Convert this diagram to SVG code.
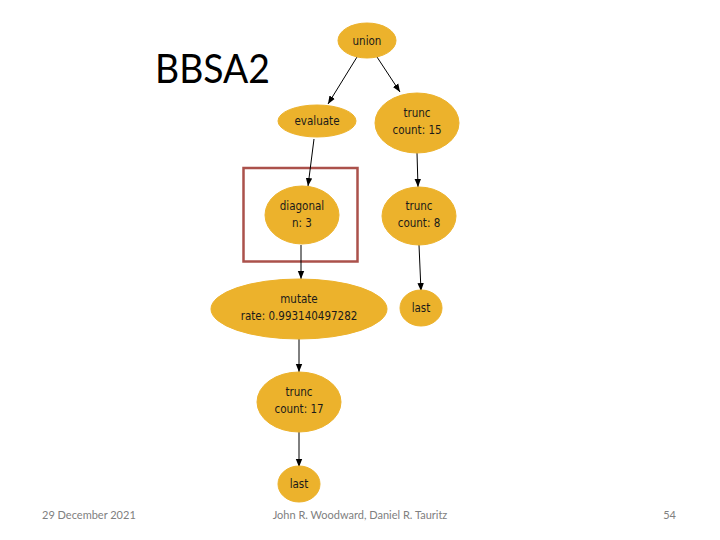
<svg xmlns="http://www.w3.org/2000/svg" width="720" height="540" viewBox="0 0 720 540">
<defs>
<marker id="arr" markerWidth="8" markerHeight="8" refX="8" refY="4" orient="auto" markerUnits="userSpaceOnUse">
<path d="M0,0.8 L8,4 L0,7.2 Z" fill="#000"/>
</marker>
<style>
.n{fill:#ecb22c;stroke:#ecb22c;stroke-width:1}
.t{font-family:"DejaVu Sans Condensed","DejaVu Sans",sans-serif;font-size:11.5px;fill:#1a1a1a;text-anchor:middle}
.e{stroke:#000;stroke-width:1;fill:none;marker-end:url(#arr)}
.f{font-family:"Lato","Open Sans",sans-serif;font-size:11px;fill:#808080}
</style>
</defs>
<rect width="720" height="540" fill="#fff"/>
<text x="155" y="83" font-family="Lato,'Open Sans',sans-serif" font-size="40" fill="#000" textLength="115" lengthAdjust="spacingAndGlyphs">BBSA2</text>
<rect x="243.5" y="168" width="114" height="93.5" fill="none" stroke="#ab514b" stroke-width="2.5"/>
<g id="edges">
<line class="e" x1="357" y1="57" x2="328" y2="104"/>
<line class="e" x1="377" y1="57" x2="400" y2="92"/>
<line class="e" x1="314" y1="139" x2="308" y2="186"/>
<line class="e" x1="417" y1="153" x2="418" y2="187"/>
<line class="e" x1="301" y1="245" x2="301" y2="279"/>
<line class="e" x1="419" y1="245" x2="421" y2="291"/>
<line class="e" x1="299" y1="339" x2="299" y2="372"/>
<line class="e" x1="299" y1="432" x2="299" y2="467"/>
</g>
<g id="union"><ellipse class="n" cx="367" cy="40.5" rx="29" ry="17.5"/><text class="t" x="367" y="44.5">union</text></g>
<g id="evaluate"><ellipse class="n" cx="317" cy="121" rx="39" ry="16"/><text class="t" x="317" y="125">evaluate</text></g>
<g id="trunc15"><ellipse class="n" cx="417" cy="123" rx="42" ry="30"/><text class="t" x="417" y="117">trunc</text><text class="t" x="417" y="134">count: 15</text></g>
<g id="diagonal"><ellipse class="n" cx="302" cy="215" rx="37" ry="29"/><text class="t" x="302" y="210">diagonal</text><text class="t" x="302" y="227">n: 3</text></g>
<g id="trunc8"><ellipse class="n" cx="419" cy="216" rx="37" ry="29"/><text class="t" x="419" y="210">trunc</text><text class="t" x="419" y="227">count: 8</text></g>
<g id="mutate"><ellipse class="n" cx="299" cy="309" rx="88" ry="30"/><text class="t" x="299" y="303">mutate</text><text class="t" x="299" y="320">rate: 0.993140497282</text></g>
<g id="last1"><ellipse class="n" cx="421" cy="308" rx="21" ry="18"/><text class="t" x="421" y="312">last</text></g>
<g id="trunc17"><ellipse class="n" cx="299" cy="402" rx="42" ry="30"/><text class="t" x="299" y="396">trunc</text><text class="t" x="299" y="413">count: 17</text></g>
<g id="last2"><ellipse class="n" cx="299" cy="484" rx="21" ry="18"/><text class="t" x="299" y="488">last</text></g>
<text class="f" x="42" y="519">29 December 2021</text>
<text class="f" x="360" y="519" text-anchor="middle">John R. Woodward, Daniel R. Tauritz</text>
<text class="f" x="676" y="519" text-anchor="end">54</text>
</svg>
